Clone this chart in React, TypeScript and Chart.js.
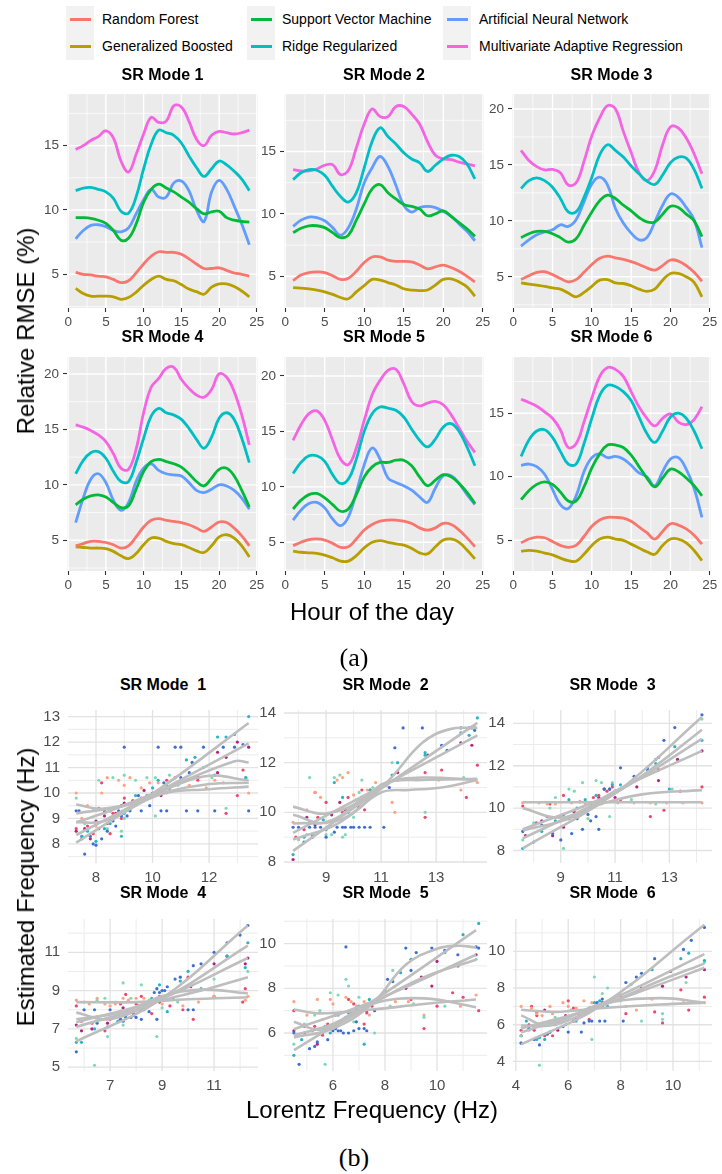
import React, { useEffect, useRef } from "react";
import { Chart, registerables } from "chart.js";
Chart.register(...registerables);

const FONT = "'Liberation Sans', Arial, Helvetica, sans-serif";
const SERIF = "'Liberation Serif', 'Times New Roman', serif";

// ---------------- (a) Relative RMSE by hour ----------------
const HOURS = [1, 2, 3, 4, 5, 6, 7, 8, 9, 10, 11, 12, 13, 14, 15, 16, 17, 18, 19, 20, 21, 22, 23, 24];
const MODELS = [
  "Random Forest",
  "Generalized Boosted",
  "Support Vector Machine",
  "Ridge Regularized",
  "Artificial Neural Network",
  "Multivariate Adaptive Regression",
];
const MODEL_COLORS = ["#F8766D", "#B79F00", "#00BA38", "#00BFC4", "#619CFF", "#F564E3"];
const HOUR_TICKS = [0, 5, 10, 15, 20, 25];

// rows: RF, GB, SVM, Ridge, ANN, MARS
const RMSE_MODE1 = [
  [5.15, 5.0, 4.95, 4.85, 4.8, 4.6, 4.35, 4.5, 5.1, 5.8, 6.4, 6.75, 6.7, 6.7, 6.55, 6.2, 5.8, 5.45, 5.45, 5.5, 5.3, 5.1, 5.0, 4.85],
  [3.9, 3.5, 3.3, 3.3, 3.3, 3.25, 3.05, 3.2, 3.6, 4.15, 4.6, 4.85, 4.6, 4.5, 4.2, 3.85, 3.65, 3.45, 4.0, 4.25, 4.25, 4.05, 3.7, 3.25],
  [9.4, 9.4, 9.35, 9.2, 8.95, 8.4, 7.65, 7.8, 8.9, 10.6, 11.6, 12.0, 11.7, 11.4, 11.0, 10.6, 10.1, 9.7, 9.85, 9.9, 9.4, 9.2, 9.1, 9.05],
  [11.5, 11.7, 11.75, 11.6, 11.4, 10.9, 9.9, 9.75, 11.0, 13.2, 15.1, 16.2, 16.0, 15.8, 15.2, 14.2, 13.3, 12.6, 13.2, 13.8, 13.5, 13.0, 12.4, 11.5],
  [7.75, 8.4, 8.8, 8.85, 8.7, 8.4, 8.3, 8.6, 9.7, 10.8, 11.6, 11.0, 11.0, 12.1, 12.25, 11.5, 10.0, 9.1, 11.4, 12.3, 11.6, 10.3, 8.9, 7.3],
  [14.7, 15.0, 15.4, 15.7, 16.15, 15.6, 13.8, 12.95, 14.3, 15.9, 17.2, 16.8, 16.9, 18.1, 18.0, 16.9, 15.5, 15.0, 15.8, 16.1, 16.0, 15.9, 16.0, 16.2],
];
const RMSE_MODE2 = [
  [4.65, 5.1, 5.3, 5.35, 5.3, 5.05, 4.75, 4.85, 5.4, 6.1, 6.55, 6.55, 6.3, 6.2, 6.2, 6.15, 5.9, 5.6, 5.75, 5.9, 5.7, 5.4, 5.0, 4.55],
  [4.1, 4.05, 4.0, 3.9, 3.75, 3.55, 3.3, 3.2, 3.75, 4.25, 4.75, 4.7, 4.5, 4.3, 4.0, 3.9, 3.85, 3.9, 4.3, 4.75, 4.8, 4.55, 4.15, 3.4],
  [8.5, 8.85, 9.05, 9.05, 8.9, 8.5, 8.1, 8.3, 9.5, 10.8, 12.0, 12.35, 11.7, 11.2, 10.75, 10.6, 10.4, 9.85, 10.0, 10.25, 9.8, 9.3, 8.8, 8.2],
  [12.75, 13.3, 13.55, 13.5, 13.1, 12.2, 11.4, 10.95, 11.7, 13.7, 15.8, 16.9, 16.2, 15.6, 14.9, 14.4, 14.1, 13.4, 13.9, 14.4, 14.7, 14.6, 14.0, 12.8],
  [9.0, 9.5, 9.75, 9.7, 9.45, 8.9, 8.3, 8.9, 10.4, 12.5, 13.7, 14.6, 13.8, 12.3, 10.7, 10.15, 10.5, 10.6, 10.5, 10.2, 9.8, 9.2, 8.6, 7.85],
  [13.55, 13.45, 13.45, 13.6, 13.9, 13.95, 13.15, 13.5, 15.3, 17.2, 18.4, 17.8, 17.8, 18.6, 18.6, 18.0, 17.2, 15.8, 14.7, 14.4, 14.35, 14.15, 14.0, 13.85],
];
const RMSE_MODE3 = [
  [4.75, 5.1, 5.4, 5.45, 5.2, 4.85, 4.55, 4.75, 5.4, 6.1, 6.65, 6.85, 6.7, 6.55, 6.35, 6.1, 5.8, 5.6, 6.0, 6.5, 6.4, 6.0, 5.4, 4.6],
  [4.45, 4.35, 4.25, 4.15, 4.0, 3.9, 3.55, 3.2, 3.6, 4.15, 4.7, 4.75, 4.45, 4.4, 4.2, 3.9, 3.7, 3.9, 4.7, 5.3, 5.3, 5.0, 4.5, 3.2],
  [8.5, 8.85, 9.05, 9.05, 8.85, 8.5, 8.1, 8.4, 9.6, 10.8, 11.8, 12.3, 12.0, 11.4, 10.9, 10.3, 9.9, 9.9, 10.6, 11.3, 11.2, 10.6, 10.0, 8.6],
  [12.9, 13.6, 13.85, 13.6, 13.0, 12.0, 10.8, 10.8, 12.1, 13.9, 15.9, 16.8, 16.3, 15.7, 14.9, 14.2, 13.55, 13.25, 14.1, 15.2, 15.7, 15.6, 14.6, 12.9],
  [7.75, 8.3, 8.75, 9.0, 9.2, 9.65, 9.5, 10.1, 11.7, 13.3, 13.9, 13.2, 11.1, 9.8, 8.9, 8.3, 8.5, 9.9, 11.4, 12.4, 12.1, 11.2, 10.1, 7.6],
  [16.3, 15.4, 14.85, 14.55, 14.6, 14.3, 13.2, 13.4, 15.3, 17.6, 19.2, 20.3, 20.0, 18.0, 16.1, 14.3, 13.6, 14.5, 16.8, 18.4, 18.3, 17.4, 16.0, 14.2],
];
const RMSE_MODE4 = [
  [4.5, 4.7, 4.9, 4.9, 4.8, 4.6, 4.3, 4.5, 5.3, 6.2, 6.8, 6.95, 6.8, 6.7, 6.6, 6.4, 6.1, 5.8, 6.2, 6.65, 6.6, 6.1, 5.4, 4.5],
  [4.4, 4.35, 4.3, 4.3, 4.25, 4.0, 3.6, 3.35, 3.8, 4.6, 5.2, 5.2, 4.9, 4.7, 4.6, 4.35, 4.05, 3.9, 4.5, 5.3, 5.5, 5.2, 4.5, 3.5],
  [8.2, 8.7, 9.0, 9.1, 8.9, 8.4, 7.95, 8.1, 9.6, 11.2, 12.1, 12.3, 12.1, 11.9, 11.6, 11.0, 10.3, 9.9, 10.6, 11.4, 11.5, 10.8, 9.5, 8.0],
  [11.0, 12.2, 12.9, 13.0, 12.4, 11.2, 10.3, 10.3, 12.0, 14.2, 16.2, 16.9, 16.5, 16.3, 15.9, 15.1, 14.1, 13.3, 14.3, 16.0, 16.5, 15.9, 14.2, 12.0],
  [6.6, 8.8, 10.5, 11.0, 10.2, 8.6, 7.7, 8.4, 10.3, 11.5, 11.9, 11.3, 11.0, 10.9, 10.8, 10.2, 9.5, 9.3, 9.6, 10.0, 9.9, 9.5, 8.8, 7.8],
  [15.4, 15.2, 14.9, 14.5, 13.9, 12.8, 11.5, 11.4, 13.2, 16.5, 18.8, 19.6, 20.5, 20.6, 19.5, 18.7, 18.1, 17.9, 18.6, 20.0, 19.7, 18.4, 16.3, 13.6],
];
const RMSE_MODE5 = [
  [4.7, 5.0, 5.25, 5.3, 5.2, 4.9, 4.55, 4.6, 5.3, 6.1, 6.6, 6.9, 7.0, 7.0, 6.9, 6.7, 6.3, 6.1, 6.3, 6.7, 6.6, 6.1, 5.4, 4.6],
  [4.2, 4.1, 4.05, 4.0, 3.85, 3.6, 3.3, 3.3, 3.8, 4.5, 5.0, 5.15, 5.0, 4.85, 4.75, 4.45, 4.05, 3.95, 4.6, 5.2, 5.3, 5.0, 4.3, 3.5],
  [8.0, 8.8, 9.3, 9.4, 9.0, 8.4, 7.8, 8.0, 9.3, 10.9, 11.8, 12.2, 12.2, 12.4, 12.4, 11.9, 10.9, 10.1, 10.6, 11.1, 10.9, 10.3, 9.5, 8.5],
  [11.2, 12.2, 12.8, 12.8, 12.3, 11.1, 10.3, 10.7, 12.5, 15.0, 16.6, 17.2, 17.1, 16.9, 16.3, 15.2, 14.2, 13.6, 14.3, 15.4, 15.7, 15.0, 13.6, 11.9],
  [7.0, 7.9, 8.5, 8.6, 8.1, 7.1, 6.5, 7.3, 9.5, 12.0, 13.5, 12.5, 10.8, 10.4, 10.1, 9.7, 9.1, 8.6, 9.9, 11.0, 11.0, 10.3, 9.3, 8.4],
  [14.2, 15.6, 16.6, 16.85, 16.0, 14.2, 12.5, 12.0, 13.5, 16.0, 18.3, 19.6, 20.5, 20.6, 19.3, 17.7, 17.3, 17.55, 17.7, 17.4, 16.5, 15.3, 14.1, 13.1],
];
const RMSE_MODE6 = [
  [4.8, 5.1, 5.25, 5.2, 4.9, 4.6, 4.45, 4.6, 5.3, 6.1, 6.6, 6.8, 6.8, 6.75, 6.5, 6.05, 5.6, 5.1, 5.7, 6.3, 6.2, 5.9, 5.4, 4.7],
  [4.15, 4.2, 4.15, 4.0, 3.85, 3.6, 3.4, 3.35, 3.9, 4.6, 5.1, 5.25, 5.1, 5.0, 4.7, 4.4, 4.1, 3.9, 4.6, 5.1, 5.1, 4.8, 4.2, 3.4],
  [8.2, 8.9, 9.4, 9.6, 9.4, 8.8, 8.1, 8.1, 9.2, 10.7, 11.8, 12.5, 12.5, 12.3, 11.7, 10.8, 9.9, 9.2, 9.9, 10.6, 10.4, 9.9, 9.3, 8.5],
  [11.6, 12.9, 13.6, 13.7, 13.1, 12.0, 11.0, 11.0, 12.6, 14.6, 16.4, 17.2, 17.1, 16.7, 16.0, 14.7, 13.4, 12.7, 13.6, 14.7, 15.0, 14.6, 13.6, 12.2],
  [10.9, 11.0, 10.8, 10.2, 9.0, 7.8, 7.5, 8.5, 10.4, 11.5, 11.8, 11.5, 11.6, 11.4, 10.9, 10.3, 10.0, 9.3, 10.4, 11.4, 11.5, 10.6, 9.1, 6.8],
  [16.1, 15.85, 15.55, 15.1, 14.6, 13.7, 12.3, 12.6, 14.3, 16.2, 17.9, 18.6, 18.45, 17.9, 16.7, 15.5, 14.6, 14.0, 14.6, 14.95, 14.3, 14.1, 14.5, 15.5],
];
const RMSE_TICKS_1 = [5, 10, 15];
const RMSE_TICKS_2 = [5, 10, 15];
const RMSE_TICKS_3 = [5, 10, 15, 20];
const RMSE_TICKS_4 = [5, 10, 15, 20];
const RMSE_TICKS_5 = [5, 10, 15, 20];
const RMSE_TICKS_6 = [5, 10, 15];

// ---------------- (b) Estimated vs Lorentz frequency ----------------
const POINT_COLORS = ["#3D6FD1", "#27B4C7", "#80D9B6", "#FFA27F", "#F0466E", "#B3237D"];
const FIT_COLOR = "#BEBEBE";

// point groups: blue, cyan, mint, peach, red, magenta
const FREQ_POINTS_1 = [
  [[7.3, 9.3], [7.4, 9.3], [7.6, 7.6], [7.9, 8.0], [8.0, 7.95], [8.2, 8.2], [8.4, 8.5], [8.6, 8.9], [8.8, 9.3], [8.9, 9.1], [9.0, 11.8], [9.2, 9.3], [9.5, 9.9], [9.9, 9.5], [10.3, 9.3], [10.5, 9.3], [10.6, 10.2], [10.8, 11.8], [11.0, 10.6], [11.2, 9.3], [11.4, 11.2], [11.6, 9.3], [11.8, 11.8], [12.2, 9.3], [12.5, 11.8], [12.9, 11.8], [13.2, 11.9], [13.4, 9.3], [11.0, 11.8], [9.6, 9.3], [7.5, 8.2], [7.8, 8.3], [8.1, 8.6], [8.3, 9.3], [8.5, 9.3], [8.7, 8.7], [9.1, 9.1], [9.4, 9.6], [10.1, 10.0], [10.4, 10.4], [11.3, 10.8], [10.2, 11.8]],
  [[7.5, 8.3], [8.0, 8.1], [8.3, 8.6], [8.9, 8.3], [9.4, 9.9], [10.0, 10.2], [10.5, 10.3], [11.2, 11.3], [11.5, 11.4], [12.3, 12.2], [12.6, 12.2], [13.4, 13.0], [13.3, 10.6], [12.2, 10.7], [7.7, 8.5], [8.5, 8.8], [9.0, 9.2], [9.8, 9.9], [10.2, 10.5], [11.8, 11.0], [12.9, 12.3]],
  [[7.3, 9.8], [7.6, 8.8], [8.1, 10.5], [8.4, 8.6], [8.9, 8.5], [9.0, 10.7], [9.8, 10.6], [10.1, 10.6], [10.9, 10.3], [11.5, 10.6], [12.6, 9.4], [13.3, 10.6], [9.0, 9.0], [10.1, 9.1], [7.9, 9.4], [8.6, 10.6], [9.4, 10.5], [10.6, 10.7], [12.1, 10.6]],
  [[7.3, 10.0], [7.5, 9.0], [8.0, 8.7], [8.2, 10.0], [8.8, 10.5], [9.2, 10.6], [9.6, 10.2], [10.2, 10.4], [10.8, 10.3], [11.3, 10.3], [11.9, 10.2], [12.5, 10.4], [13.4, 10.0], [8.5, 9.3], [7.7, 9.5], [8.4, 10.6], [9.0, 10.3], [9.9, 10.4], [10.5, 10.0], [12.2, 10.5]],
  [[7.3, 8.6], [7.5, 8.3], [7.9, 8.4], [8.2, 10.4], [8.5, 8.4], [8.9, 9.0], [9.0, 9.8], [9.6, 9.8], [10.0, 10.0], [10.5, 10.5], [11.6, 10.5], [12.6, 9.2], [13.2, 10.9], [13.0, 9.9], [7.7, 8.7], [8.1, 9.4], [8.6, 9.2], [9.3, 9.7], [10.8, 10.6]],
  [[7.3, 8.5], [7.8, 8.2], [8.3, 9.1], [8.7, 9.2], [9.0, 9.6], [9.7, 10.1], [10.3, 9.9], [10.9, 10.4], [11.6, 10.6], [12.3, 10.8], [12.6, 11.4], [13.0, 12.0], [13.4, 11.8], [12.3, 11.6], [7.6, 8.6], [8.0, 8.9], [8.4, 8.8], [8.9, 9.5], [9.2, 9.4], [9.9, 9.9], [10.6, 10.2]],
];
const FREQ_FITS_1 = [
  [[7.3, 8.05], [10.3, 10.2], [13.4, 12.75]],
  [[7.3, 8.35], [10.3, 10.1], [13.4, 11.95]],
  [[7.3, 8.85], [8.5, 9.3], [10.3, 10.1], [12.9, 11.25], [13.4, 11.2]],
  [[7.3, 9.55], [8.2, 9.38], [9.5, 9.7], [11.8, 10.65], [13.4, 10.5]],
  [[7.3, 9.2], [9.0, 9.5], [10.3, 10.0], [12.0, 10.35], [13.4, 10.4]],
  [[7.3, 8.85], [8.3, 8.9], [10.3, 9.95], [12.0, 10.15], [13.4, 10.25]],
];
const FREQ_POINTS_2 = [
  [[7.8, 9.4], [8.0, 9.4], [8.2, 8.8], [8.5, 9.0], [8.8, 9.4], [9.1, 9.4], [9.3, 9.2], [9.6, 9.4], [9.9, 9.4], [10.0, 9.4], [10.4, 9.4], [11.1, 9.4], [10.9, 10.9], [11.3, 11.0], [11.5, 12.6], [11.8, 13.4], [12.5, 13.4], [13.2, 12.7], [13.4, 12.5], [14.2, 13.4], [14.4, 13.3], [14.3, 13.4], [13.9, 13.4], [8.4, 9.4], [8.6, 9.4], [9.4, 9.4], [9.7, 9.4], [10.2, 9.4], [10.6, 9.4], [10.5, 10.5], [9.0, 9.0]],
  [[7.8, 8.3], [8.2, 9.0], [8.9, 9.7], [9.3, 11.2], [9.6, 10.6], [10.3, 10.6], [11.0, 11.1], [11.6, 12.0], [12.6, 12.3], [13.9, 13.2], [14.5, 13.8], [14.2, 13.1], [12.6, 12.4], [8.5, 9.1], [9.0, 9.3], [9.8, 10.0], [10.6, 10.9], [11.4, 11.5]],
  [[8.0, 8.9], [8.4, 11.4], [9.3, 11.4], [9.5, 11.5], [9.6, 9.0], [10.2, 10.8], [10.3, 11.3], [11.4, 12.0], [12.6, 10.0], [14.0, 11.4], [14.4, 11.3], [9.0, 9.1], [10.0, 9.8], [8.3, 9.1], [9.2, 9.1], [9.7, 9.1], [10.1, 10.5], [10.7, 11.0]],
  [[7.8, 9.6], [8.3, 10.1], [8.6, 10.8], [9.0, 9.9], [9.4, 11.3], [9.8, 11.6], [10.2, 10.3], [11.4, 10.4], [11.5, 10.0], [13.1, 11.3], [13.9, 10.9], [14.5, 11.2], [10.8, 11.2], [8.8, 10.6], [9.6, 11.4], [10.0, 10.7], [10.5, 10.9]],
  [[7.9, 9.0], [8.2, 9.3], [8.6, 10.8], [8.7, 9.8], [9.6, 10.0], [10.3, 10.9], [10.6, 10.9], [11.6, 11.3], [12.6, 9.8], [13.2, 11.7], [14.1, 10.6], [14.5, 11.9], [12.6, 11.6], [8.4, 9.6], [9.0, 10.4], [9.8, 10.6], [10.4, 10.1]],
  [[7.8, 8.1], [8.3, 9.8], [9.2, 9.9], [9.5, 10.4], [10.2, 10.2], [10.6, 10.7], [11.2, 11.1], [11.6, 11.6], [12.7, 12.3], [13.9, 12.8], [14.3, 12.7], [14.4, 13.4], [8.6, 9.5], [9.0, 9.6], [9.7, 10.1], [10.4, 10.6], [10.9, 11.0]],
];
const FREQ_FITS_2 = [
  [[7.8, 8.9], [9.5, 9.6], [11.2, 11.2], [12.5, 12.8], [13.5, 13.35], [14.5, 13.4]],
  [[7.8, 8.45], [11.2, 11.1], [14.5, 13.6]],
  [[7.8, 9.17], [11.2, 11.15], [14.5, 13.1]],
  [[7.8, 10.23], [9.0, 9.95], [10.5, 10.6], [11.2, 11.2], [12.5, 11.3], [14.5, 11.35]],
  [[7.8, 9.9], [9.0, 9.6], [10.5, 10.7], [11.2, 11.2], [12.5, 11.4], [14.5, 11.3]],
  [[7.8, 9.55], [9.5, 9.7], [11.0, 10.8], [12.0, 10.9], [13.2, 11.0], [14.5, 11.3]],
];
const FREQ_POINTS_3 = [
  [[7.6, 8.9], [8.0, 8.4], [8.5, 9.6], [8.7, 8.8], [9.0, 8.5], [9.2, 9.5], [9.4, 8.8], [9.6, 9.5], [10.0, 9.7], [10.3, 9.6], [10.4, 9.0], [10.8, 10.9], [11.0, 10.8], [11.2, 11.9], [11.7, 11.5], [12.6, 12.4], [12.2, 11.8], [12.8, 13.2], [13.2, 13.8], [14.2, 14.4], [9.8, 9.0], [10.1, 9.4], [10.6, 10.9], [10.9, 10.7], [9.1, 9.7], [8.3, 9.2]],
  [[7.6, 8.1], [8.3, 8.9], [8.8, 9.4], [9.3, 10.4], [9.9, 10.4], [10.3, 10.6], [10.9, 11.1], [11.6, 11.2], [12.2, 11.9], [12.5, 12.3], [13.0, 10.9], [13.2, 12.9], [14.2, 13.2], [12.5, 12.1], [9.6, 10.0], [10.6, 10.9], [11.2, 11.1], [9.0, 9.6]],
  [[7.6, 8.5], [8.6, 10.0], [9.1, 8.1], [9.3, 10.9], [9.8, 11.2], [10.3, 11.3], [10.9, 11.2], [11.6, 10.4], [12.5, 10.2], [13.1, 10.9], [14.2, 14.2], [10.0, 9.5], [8.0, 9.3], [8.8, 10.5], [9.5, 10.8], [10.5, 11.2], [10.8, 9.6]],
  [[7.6, 10.25], [8.2, 10.25], [8.8, 10.2], [9.4, 10.25], [9.9, 10.2], [10.5, 10.25], [11.1, 10.25], [11.7, 10.25], [12.3, 10.25], [12.9, 10.25], [13.5, 10.25], [14.2, 10.25], [8.5, 10.2], [10.8, 10.3]],
  [[7.6, 10.1], [8.1, 9.3], [8.6, 10.2], [9.1, 10.6], [9.5, 9.6], [10.4, 10.6], [11.2, 10.4], [12.3, 9.6], [12.8, 9.9], [13.4, 10.8], [14.2, 11.0], [10.9, 11.0], [9.7, 10.3], [10.2, 10.5], [10.7, 10.8], [8.9, 9.6]],
  [[7.7, 8.7], [8.3, 9.4], [8.7, 8.7], [9.3, 9.5], [10.1, 10.2], [10.6, 10.9], [11.0, 10.5], [11.8, 11.0], [12.6, 11.3], [13.3, 12.3], [14.2, 12.7], [12.6, 11.8], [9.5, 9.8], [10.4, 10.5], [10.8, 10.9], [9.1, 9.1]],
];
const FREQ_FITS_3 = [
  [[7.6, 8.1], [11.0, 10.7], [14.2, 14.3]],
  [[7.6, 8.57], [11.0, 10.7], [12.5, 12.0], [14.2, 13.7]],
  [[7.6, 9.0], [11.0, 10.75], [14.2, 13.27]],
  [[7.6, 8.95], [9.5, 9.6], [11.0, 10.8], [14.2, 12.7]],
  [[7.6, 10.28], [14.2, 10.28]],
  [[7.6, 10.0], [9.0, 9.55], [10.5, 10.2], [12.0, 10.65], [14.2, 10.85]],
];
const FREQ_POINTS_4 = [
  [[5.7, 5.8], [6.0, 8.0], [6.4, 8.0], [6.5, 7.3], [7.0, 8.0], [7.4, 7.5], [7.6, 7.6], [7.8, 7.6], [8.2, 7.5], [8.2, 8.0], [8.8, 7.5], [8.9, 8.9], [9.0, 9.0], [9.2, 9.2], [9.5, 9.6], [9.7, 9.7], [10.0, 8.0], [10.2, 8.0], [10.2, 10.3], [10.5, 10.4], [11.0, 11.0], [11.5, 11.5], [12.0, 11.9], [12.3, 12.4], [7.2, 7.6], [7.5, 7.4], [7.9, 7.7], [8.0, 7.6], [8.5, 7.9], [8.7, 8.9], [8.8, 9.1], [9.1, 9.0]],
  [[5.7, 6.3], [5.9, 6.3], [6.4, 7.0], [6.9, 7.1], [7.4, 7.5], [8.1, 8.0], [8.9, 9.3], [9.2, 7.9], [9.7, 9.5], [10.0, 10.0], [10.5, 9.1], [11.5, 10.8], [12.3, 11.5], [12.2, 10.2], [7.3, 7.4], [7.6, 7.7], [8.3, 8.2], [8.6, 8.6]],
  [[5.7, 6.5], [6.4, 5.1], [6.8, 8.6], [6.9, 6.6], [7.5, 9.4], [7.5, 7.2], [8.2, 9.3], [8.3, 8.4], [8.8, 6.6], [9.6, 8.4], [11.0, 9.6], [12.3, 10.0], [9.0, 8.1], [6.5, 8.5], [7.2, 8.4], [7.8, 8.6], [8.5, 8.5]],
  [[5.7, 8.5], [6.0, 8.4], [6.5, 8.6], [6.8, 8.3], [7.0, 8.2], [7.5, 8.6], [8.0, 8.6], [8.5, 8.4], [9.0, 8.3], [9.8, 8.2], [10.4, 8.4], [11.0, 8.7], [12.3, 8.7], [12.2, 8.5], [6.2, 8.3], [7.2, 8.3], [7.7, 8.5], [8.3, 8.6], [8.8, 8.5]],
  [[5.7, 8.2], [5.9, 7.4], [6.3, 7.3], [6.8, 6.9], [7.6, 8.8], [8.2, 8.7], [8.6, 7.8], [9.3, 8.2], [9.8, 8.0], [10.2, 7.5], [10.0, 9.7], [11.0, 8.7], [12.1, 8.4], [12.2, 9.1], [7.0, 7.5], [7.4, 8.3], [8.0, 8.3], [8.9, 8.7]],
  [[5.7, 7.2], [5.9, 6.9], [6.3, 7.0], [6.9, 7.3], [7.5, 8.1], [7.9, 7.8], [8.3, 8.0], [8.9, 8.4], [9.4, 8.6], [10.1, 9.2], [11.0, 10.4], [11.5, 10.8], [12.3, 10.7], [12.2, 10.4], [7.2, 7.6], [7.7, 7.9], [8.1, 8.2], [8.6, 8.3]],
];
const FREQ_FITS_4 = [
  [[5.7, 6.35], [8.9, 8.5], [12.3, 12.4]],
  [[5.7, 7.1], [8.9, 8.5], [12.3, 11.35]],
  [[5.7, 7.35], [8.9, 8.55], [12.3, 10.7]],
  [[5.7, 7.85], [7.0, 7.5], [8.9, 8.45], [10.5, 9.0], [12.3, 9.7]],
  [[5.7, 7.5], [7.5, 7.9], [9.0, 8.7], [10.5, 9.05], [12.3, 8.85]],
  [[5.7, 8.4], [8.0, 8.4], [10.0, 8.55], [12.3, 8.65]],
];
const FREQ_POINTS_5 = [
  [[4.5, 6.0], [4.7, 4.6], [5.1, 5.3], [5.4, 5.6], [5.6, 6.2], [6.0, 6.1], [6.1, 6.2], [6.3, 6.1], [6.5, 9.85], [6.6, 6.0], [7.2, 6.2], [7.3, 6.1], [7.6, 7.0], [8.1, 8.4], [8.3, 8.3], [8.8, 9.8], [9.0, 8.8], [9.2, 9.6], [9.8, 9.8], [10.3, 9.7], [10.8, 9.5], [11.6, 9.8], [11.5, 9.85], [6.9, 6.5], [5.8, 5.7], [6.2, 6.1], [6.4, 6.0], [6.8, 6.1], [7.0, 6.2], [5.3, 5.4], [7.4, 7.3]],
  [[4.5, 5.0], [4.8, 5.7], [5.2, 6.1], [5.7, 6.3], [6.2, 6.8], [6.6, 6.9], [7.0, 7.2], [7.2, 5.5], [8.0, 7.8], [8.6, 8.7], [9.0, 9.3], [10.3, 9.6], [11.0, 10.4], [11.6, 10.9], [5.9, 6.0], [6.4, 6.6], [6.9, 7.1], [7.4, 7.5]],
  [[4.5, 5.5], [4.9, 6.4], [5.5, 7.0], [5.7, 4.6], [5.9, 7.8], [6.5, 8.4], [6.8, 6.5], [7.6, 6.0], [8.2, 7.2], [8.3, 8.8], [9.1, 7.3], [9.5, 6.7], [10.3, 7.2], [11.5, 9.3], [5.3, 6.8], [6.2, 7.7], [6.6, 8.1], [7.0, 7.6]],
  [[4.5, 7.4], [5.0, 6.8], [5.4, 7.5], [5.9, 7.5], [6.5, 7.6], [6.9, 7.2], [7.4, 6.8], [8.4, 7.4], [9.5, 6.8], [11.5, 7.7], [6.2, 6.5], [8.9, 7.4], [10.9, 7.2], [5.6, 6.6], [6.0, 7.3], [6.7, 7.4], [7.2, 7.4]],
  [[4.5, 7.0], [4.9, 6.3], [5.3, 6.3], [5.6, 5.9], [6.1, 6.8], [6.6, 7.5], [7.0, 7.0], [7.2, 6.4], [7.5, 7.2], [9.0, 7.5], [9.5, 6.2], [10.0, 7.2], [10.6, 7.8], [11.6, 7.0], [11.0, 7.6], [5.8, 6.4], [6.3, 6.9], [6.8, 7.3], [7.3, 6.9]],
  [[4.5, 6.1], [4.9, 6.0], [5.4, 5.5], [5.8, 6.2], [6.3, 6.5], [6.7, 6.9], [7.3, 7.0], [8.0, 7.9], [8.8, 8.0], [9.4, 8.5], [10.0, 9.2], [10.8, 9.0], [11.5, 9.5], [9.8, 8.1], [5.6, 6.0], [6.0, 6.3], [6.5, 6.7], [7.0, 7.0]],
];
const FREQ_FITS_5 = [
  [[4.5, 5.23], [7.5, 7.4], [11.5, 10.6]],
  [[4.5, 5.8], [6.0, 6.2], [7.5, 7.3], [8.8, 9.05], [10.0, 9.77], [10.8, 9.9], [11.5, 9.83]],
  [[4.5, 6.17], [7.5, 7.4], [11.5, 9.5]],
  [[4.5, 6.5], [5.5, 6.15], [6.5, 6.6], [7.5, 7.3], [9.5, 8.5], [11.5, 9.28]],
  [[4.5, 5.9], [6.0, 6.4], [7.5, 7.3], [9.5, 7.55], [11.5, 7.15]],
  [[4.5, 7.05], [5.5, 6.88], [7.5, 7.05], [9.5, 7.3], [11.5, 7.5]],
];
const FREQ_POINTS_6 = [
  [[4.2, 5.0], [4.5, 5.8], [4.9, 4.9], [5.2, 5.5], [5.6, 5.8], [6.0, 5.6], [6.5, 5.6], [6.6, 6.1], [7.1, 7.2], [7.4, 6.2], [7.3, 7.4], [8.2, 8.3], [8.6, 8.6], [8.8, 8.8], [9.3, 9.6], [10.4, 10.1], [10.7, 10.6], [11.2, 11.3], [8.1, 6.2], [6.9, 6.2], [5.3, 5.6], [5.8, 5.9], [6.3, 6.3], [6.8, 6.2], [7.2, 6.2], [7.4, 7.2], [4.7, 5.2]],
  [[4.2, 5.0], [4.4, 6.2], [4.9, 5.3], [5.1, 5.2], [5.5, 6.0], [6.3, 6.2], [6.7, 6.6], [7.0, 7.2], [7.5, 7.0], [8.4, 8.2], [9.2, 9.0], [10.3, 9.6], [10.6, 9.9], [11.2, 9.5], [4.8, 5.2], [5.3, 5.6], [5.9, 6.0], [7.2, 7.3]],
  [[4.2, 5.4], [4.9, 3.8], [5.3, 6.2], [5.8, 6.3], [6.8, 6.8], [7.0, 8.6], [7.5, 8.0], [6.9, 5.2], [8.0, 7.3], [8.8, 6.2], [9.6, 6.3], [10.5, 8.3], [11.2, 9.4], [9.6, 6.6], [4.5, 5.7], [5.5, 6.4], [6.1, 6.8], [7.3, 7.7]],
  [[4.2, 7.0], [4.6, 6.9], [5.0, 6.5], [5.3, 7.0], [5.8, 7.2], [6.3, 6.9], [6.6, 7.3], [7.2, 7.0], [7.7, 7.3], [8.6, 6.8], [9.2, 7.4], [10.4, 7.2], [11.2, 7.2], [8.2, 7.0], [4.8, 6.6], [5.4, 6.6], [6.0, 7.0], [6.9, 7.2]],
  [[4.2, 5.7], [4.6, 7.0], [4.8, 6.5], [5.1, 5.4], [5.4, 5.4], [6.0, 7.3], [6.4, 6.5], [6.8, 6.3], [7.3, 7.0], [8.2, 6.6], [9.3, 6.7], [9.6, 6.1], [10.3, 7.9], [10.6, 6.8], [11.2, 7.5], [4.7, 5.7], [5.2, 5.5], [5.6, 6.2], [6.2, 6.9]],
  [[4.2, 5.4], [4.8, 6.7], [5.1, 6.8], [5.6, 5.7], [6.2, 6.2], [6.8, 6.9], [7.3, 7.2], [8.0, 7.6], [8.8, 8.0], [9.6, 8.1], [10.5, 8.6], [11.2, 9.0], [9.9, 8.9], [4.5, 6.0], [5.3, 6.1], [5.9, 6.5], [6.6, 6.7]],
];
const FREQ_FITS_6 = [
  [[4.2, 4.93], [7.2, 7.0], [11.2, 11.45]],
  [[4.2, 5.58], [7.2, 7.1], [11.2, 9.85]],
  [[4.2, 5.8], [7.2, 7.0], [9.5, 8.4], [11.2, 9.33]],
  [[4.2, 5.96], [5.5, 6.0], [7.2, 7.0], [9.5, 8.2], [11.2, 9.1]],
  [[4.2, 6.51], [5.2, 6.0], [7.2, 7.1], [9.5, 7.45], [11.2, 7.2]],
  [[4.2, 6.82], [5.5, 6.7], [7.2, 6.9], [9.5, 7.1], [11.2, 7.2]],
];
const FREQ_XTICKS_1 = [8, 10, 12];
const FREQ_YTICKS_1 = [8, 9, 10, 11, 12, 13];
const FREQ_XTICKS_2 = [9, 11, 13];
const FREQ_YTICKS_2 = [8, 10, 12, 14];
const FREQ_XTICKS_3 = [9, 11, 13];
const FREQ_YTICKS_3 = [8, 10, 12, 14];
const FREQ_XTICKS_4 = [7, 9, 11];
const FREQ_YTICKS_4 = [5, 7, 9, 11];
const FREQ_XTICKS_5 = [6, 8, 10];
const FREQ_YTICKS_5 = [6, 8, 10];
const FREQ_XTICKS_6 = [4, 6, 8, 10];
const FREQ_YTICKS_6 = [4, 6, 8, 10];

// ---------------- layout ----------------
const A_PANELS = [
  { title: "SR Mode 1", rows: RMSE_MODE1, yTicks: RMSE_TICKS_1, left: 67, top: 92, w: 191, h: 216, yMin: 2.38, yMax: 19.0 },
  { title: "SR Mode 2", rows: RMSE_MODE2, yTicks: RMSE_TICKS_2, left: 284, top: 92, w: 200, h: 216, yMin: 2.46, yMax: 19.6 },
  { title: "SR Mode 3", rows: RMSE_MODE3, yTicks: RMSE_TICKS_3, left: 512, top: 92, w: 199, h: 216, yMin: 2.21, yMax: 21.33 },
  { title: "SR Mode 4", rows: RMSE_MODE4, yTicks: RMSE_TICKS_4, left: 67, top: 355, w: 191, h: 216, yMin: 2.23, yMax: 21.52 },
  { title: "SR Mode 5", rows: RMSE_MODE5, yTicks: RMSE_TICKS_5, left: 284, top: 355, w: 200, h: 216, yMin: 2.41, yMax: 21.7 },
  { title: "SR Mode 6", rows: RMSE_MODE6, yTicks: RMSE_TICKS_6, left: 512, top: 355, w: 199, h: 216, yMin: 2.585, yMax: 19.415 },
];
const B_PANELS = [
  { title: "SR Mode  1", pts: FREQ_POINTS_1, fits: FREQ_FITS_1, xTicks: FREQ_XTICKS_1, yTicks: FREQ_YTICKS_1, left: 68, top: 703, w: 190, h: 160, xMin: 7.01, xMax: 13.73, yMin: 7.25, yMax: 13.26 },
  { title: "SR Mode  2", pts: FREQ_POINTS_2, fits: FREQ_FITS_2, xTicks: FREQ_XTICKS_2, yTicks: FREQ_YTICKS_2, left: 284, top: 703, w: 203, h: 160, xMin: 7.47, xMax: 14.85, yMin: 7.96, yMax: 14.12 },
  { title: "SR Mode  3", pts: FREQ_POINTS_3, fits: FREQ_FITS_3, xTicks: FREQ_XTICKS_3, yTicks: FREQ_YTICKS_3, left: 513, top: 703, w: 199, h: 160, xMin: 7.24, xMax: 14.57, yMin: 7.41, yMax: 14.63 },
  { title: "SR Mode  4", pts: FREQ_POINTS_4, fits: FREQ_FITS_4, xTicks: FREQ_XTICKS_4, yTicks: FREQ_YTICKS_4, left: 68, top: 912, w: 190, h: 159, xMin: 5.38, xMax: 12.69, yMin: 4.8, yMax: 12.74 },
  { title: "SR Mode  5", pts: FREQ_POINTS_5, fits: FREQ_FITS_5, xTicks: FREQ_XTICKS_5, yTicks: FREQ_YTICKS_5, left: 284, top: 912, w: 203, h: 159, xMin: 4.12, xMax: 11.92, yMin: 4.3, yMax: 11.1 },
  { title: "SR Mode  6", pts: FREQ_POINTS_6, fits: FREQ_FITS_6, xTicks: FREQ_XTICKS_6, yTicks: FREQ_YTICKS_6, left: 513, top: 912, w: 199, h: 159, xMin: 3.89, xMax: 11.49, yMin: 3.48, yMax: 11.76 },
];

const AXIS_W = 44;
const AXIS_H = 30;
const PAD_T = 10;
const PAD_R = 14;

function minorOf(ticks: number[], lo: number, hi: number) {
  const step = ticks.length > 1 ? ticks[1] - ticks[0] : 1;
  const out: number[] = [];
  for (let v = ticks[0] - step * 10 + step / 2; v <= hi + 1e-9; v += step) {
    if (v >= lo - 1e-9) out.push(v);
  }
  return out;
}

function gridPlugin(cfg: any) {
  return {
    id: "panelGrid",
    beforeDraw(chart: any) {
      const { ctx, chartArea: ca } = chart;
      const xs = chart.scales.x;
      const ys = chart.scales.y;
      ctx.save();
      if (cfg.bg) {
        ctx.fillStyle = cfg.bg;
        ctx.fillRect(ca.left, ca.top, ca.right - ca.left, ca.bottom - ca.top);
      }
      const v = (vals: number[], w: number, c: string) => {
        ctx.lineWidth = w;
        ctx.strokeStyle = c;
        for (const val of vals) {
          const p = xs.getPixelForValue(val);
          if (p < ca.left - 0.5 || p > ca.right + 0.5) continue;
          ctx.beginPath();
          ctx.moveTo(p, ca.top);
          ctx.lineTo(p, ca.bottom);
          ctx.stroke();
        }
      };
      const hz = (vals: number[], w: number, c: string) => {
        ctx.lineWidth = w;
        ctx.strokeStyle = c;
        for (const val of vals) {
          const p = ys.getPixelForValue(val);
          if (p < ca.top - 0.5 || p > ca.bottom + 0.5) continue;
          ctx.beginPath();
          ctx.moveTo(ca.left, p);
          ctx.lineTo(ca.right, p);
          ctx.stroke();
        }
      };
      v(cfg.xMinor, cfg.minorW, cfg.minorC);
      hz(cfg.yMinor, cfg.minorW, cfg.minorC);
      v(cfg.xMajor, cfg.majorW, cfg.majorC);
      hz(cfg.yMajor, cfg.majorW, cfg.majorC);
      ctx.restore();
    },
  };
}

function buildConfig(p: any, kind: "a" | "b") {
  const isA = kind === "a";
  const xMin = isA ? -0.15 : p.xMin;
  const xMax = isA ? 25.15 : p.xMax;
  const xTicks = isA ? HOUR_TICKS : p.xTicks;
  const yTicks = p.yTicks;
  const tickFont = { family: FONT, size: isA ? 13.5 : 15 };
  const datasets: any[] = [];
  if (isA) {
    p.rows.forEach((vals: number[], i: number) => {
      datasets.push({
        label: MODELS[i],
        data: HOURS.map((h, j) => ({ x: h, y: vals[j] })),
        borderColor: MODEL_COLORS[i],
        backgroundColor: MODEL_COLORS[i],
        borderWidth: 2.8,
        pointRadius: 0,
        tension: 0.4,
        fill: false,
      });
    });
  } else {
    p.fits.forEach((f: number[][]) => {
      datasets.push({
        data: f.map(([x, y]) => ({ x, y })),
        borderColor: FIT_COLOR,
        backgroundColor: FIT_COLOR,
        borderWidth: 2.6,
        pointRadius: 0,
        tension: 0.4,
        fill: false,
      });
    });
    p.pts.forEach((grp: number[][], i: number) => {
      datasets.push({
        data: grp.map(([x, y]) => ({ x, y })),
        showLine: false,
        pointRadius: 1.6,
        pointBorderWidth: 0,
        pointBackgroundColor: POINT_COLORS[i],
        borderColor: POINT_COLORS[i],
        backgroundColor: POINT_COLORS[i],
      });
    });
  }
  const gridCfg = isA
    ? { tickLength: 4, drawTicks: true, display: true, drawOnChartArea: false, tickColor: "#333333", tickWidth: 1.1 }
    : { display: false, drawTicks: false };
  return {
    type: "line",
    data: { datasets },
    options: {
      animation: false,
      responsive: false,
      devicePixelRatio: 1,
      events: [],
      layout: { padding: { top: PAD_T, right: PAD_R, left: 0, bottom: 0 } },
      plugins: { legend: { display: false }, tooltip: { enabled: false }, title: { display: false } },
      scales: {
        x: {
          type: "linear",
          min: xMin,
          max: xMax,
          afterFit: (s: any) => {
            s.height = AXIS_H;
          },
          afterBuildTicks: (s: any) => {
            s.ticks = xTicks.map((t: number) => ({ value: t }));
          },
          ticks: {
            autoSkip: false,
            maxRotation: 0,
            color: "#4D4D4D",
            font: tickFont,
            padding: isA ? 2 : 6,
            callback: (val: any) => String(val),
          },
          grid: gridCfg,
          border: { display: false },
        },
        y: {
          type: "linear",
          min: p.yMin,
          max: p.yMax,
          afterFit: (s: any) => {
            s.width = AXIS_W;
          },
          afterBuildTicks: (s: any) => {
            s.ticks = yTicks.map((t: number) => ({ value: t }));
          },
          ticks: {
            autoSkip: false,
            color: "#4D4D4D",
            font: tickFont,
            padding: isA ? 4 : 8,
            callback: (val: any) => String(val),
          },
          grid: gridCfg,
          border: { display: false },
        },
      },
    },
    plugins: [
      gridPlugin({
        bg: isA ? "#EBEBEB" : null,
        xMajor: xTicks,
        yMajor: yTicks,
        xMinor: minorOf(xTicks, xMin, xMax),
        yMinor: minorOf(yTicks, p.yMin, p.yMax),
        majorW: isA ? 1.4 : 1.3,
        minorW: isA ? 0.7 : 1.0,
        majorC: isA ? "#FFFFFF" : "#E2E2E2",
        minorC: isA ? "#FFFFFF" : "#ECECEC",
      }),
    ],
  };
}

function Panel({ p, kind }: { p: any; kind: "a" | "b" }) {
  const ref = useRef<HTMLCanvasElement | null>(null);
  const cw = AXIS_W + p.w + PAD_R;
  const ch = PAD_T + p.h + AXIS_H;
  useEffect(() => {
    const chart = new Chart(ref.current as HTMLCanvasElement, buildConfig(p, kind) as any);
    return () => chart.destroy();
  }, [p, kind]);
  return (
    <canvas
      ref={ref}
      width={cw}
      height={ch}
      style={{ position: "absolute", left: p.left - AXIS_W, top: p.top - PAD_T, width: cw, height: ch }}
    />
  );
}

function Text({ x, y, text, size, bold, serif, rotate }: any) {
  return (
    <div
      style={{
        position: "absolute",
        left: x,
        top: y,
        transform: `translate(-50%, -50%)${rotate ? " rotate(-90deg)" : ""}`,
        whiteSpace: "pre",
        fontFamily: serif ? SERIF : FONT,
        fontSize: size,
        fontWeight: bold ? 700 : 400,
        lineHeight: 1,
        color: "#000",
      }}
    >
      {text}
    </div>
  );
}

const LEGEND_COLS = [
  { boxX: 66, textX: 102 },
  { boxX: 247, textX: 282 },
  { boxX: 443, textX: 479 },
];

function Legend() {
  const items: any[] = [];
  MODELS.forEach((name, i) => {
    const col = LEGEND_COLS[Math.floor(i / 2)];
    const row = i % 2;
    const cy = row === 0 ? 19 : 46;
    items.push(
      <div key={"k" + i} style={{ position: "absolute", left: col.boxX, top: cy - 13.5, width: 28, height: 27, background: "#F2F2F2" }}>
        <div style={{ position: "absolute", left: 3.5, top: 12, width: 21, height: 3, background: MODEL_COLORS[i] }} />
      </div>
    );
    items.push(
      <div
        key={"t" + i}
        style={{ position: "absolute", left: col.textX, top: cy, transform: "translateY(-50%)", fontFamily: FONT, fontSize: 14, lineHeight: 1, whiteSpace: "pre", color: "#000" }}
      >
        {name}
      </div>
    );
  });
  return <>{items}</>;
}

export default function App() {
  useEffect(() => {
    document.body.style.margin = "0";
  }, []);
  return (
    <div style={{ position: "relative", width: 722, height: 1174, background: "#FFFFFF", overflow: "hidden" }}>
      <Legend />
      {A_PANELS.map((p, i) => (
        <React.Fragment key={"a" + i}>
          <Panel p={p} kind="a" />
          <Text x={p.left + p.w / 2} y={i < 3 ? 75 : 337} text={p.title} size={16} bold />
        </React.Fragment>
      ))}
      <Text x={26} y={331} text="Relative RMSE (%)" size={24} rotate />
      <Text x={372} y={612} text="Hour of the day" size={24} />
      <Text x={354} y={658} text="(a)" size={26} serif />
      {B_PANELS.map((p, i) => (
        <React.Fragment key={"b" + i}>
          <Panel p={p} kind="b" />
          <Text x={p.left + p.w / 2} y={i < 3 ? 685 : 893} text={p.title} size={16} bold />
        </React.Fragment>
      ))}
      <Text x={26} y={887} text="Estimated Frequency (Hz)" size={24} rotate />
      <Text x={372} y={1110} text="Lorentz Frequency (Hz)" size={24} />
      <Text x={354} y={1158} text="(b)" size={26} serif />
    </div>
  );
}
